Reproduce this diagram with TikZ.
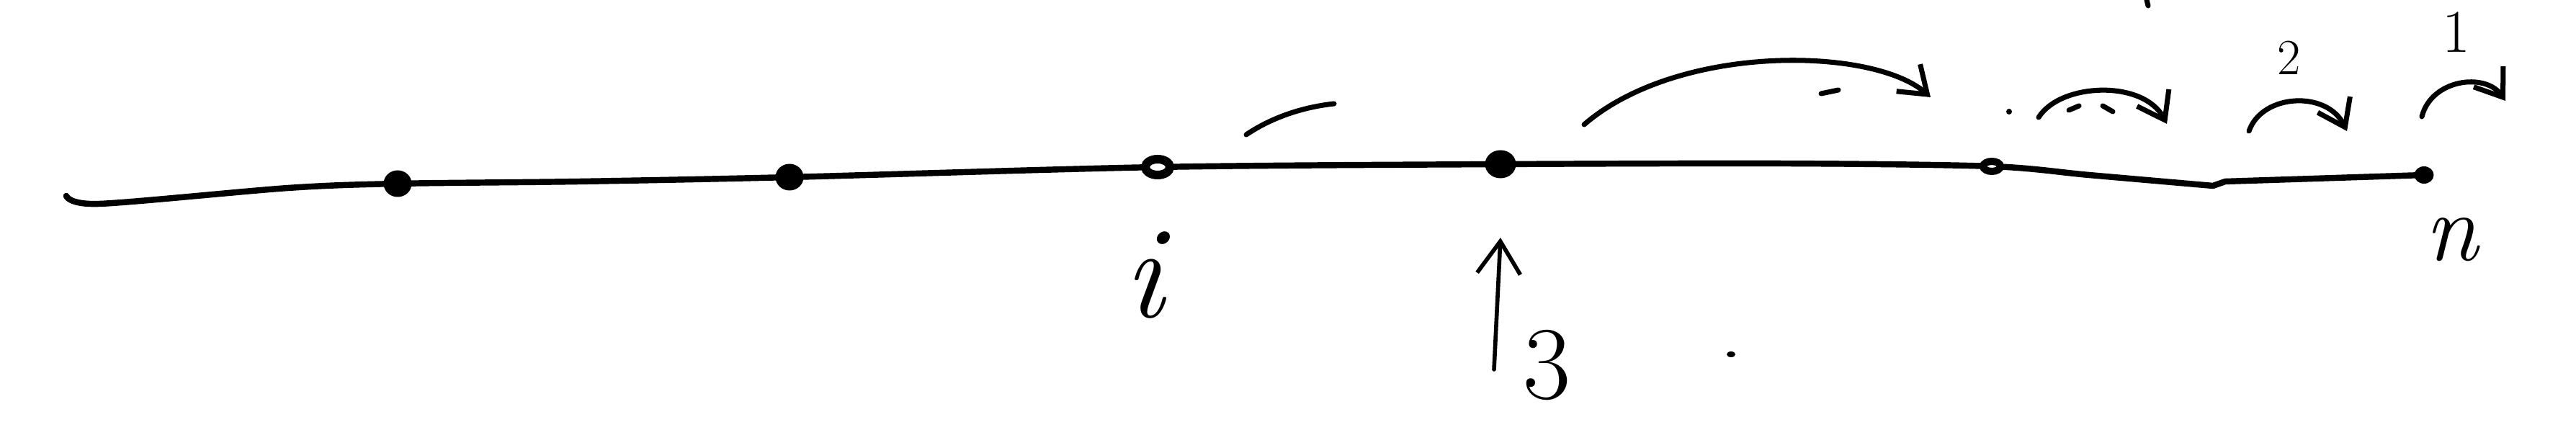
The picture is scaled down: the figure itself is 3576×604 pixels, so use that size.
\documentclass[tikz,border=0pt]{standalone}
\usetikzlibrary{arrows.meta,shapes.geometric}

\begin{document}
\begin{tikzpicture}[x=0.1mm, y=-0.1mm,
    axis/.style={line width=2.4pt, line cap=round, line join=round},
    fulldot/.style={ellipse, fill=black, inner sep=0pt, minimum width=3.9mm, minimum height=3.7mm},
    opendot/.style={ellipse, draw=black, fill=white, line width=1.2mm, inner sep=0pt, minimum width=3.4mm, minimum height=2.2mm},
    hop/.style={line width=2pt, line cap=round, -{Straight Barb[length=3.5mm, width=5mm]}},
    stroke/.style={line width=2pt, line cap=round},
    lbl/.style={inner sep=0pt, font=\fontsize{#1}{#1}\selectfont}]
    % Fix the page size
    \useasboundingbox (0,0) rectangle (3576,604);

    % Points on the line
    \coordinate (start) at (92,272);
    \coordinate (hook) at (138,283);
    \coordinate (p1) at (552,255);
    \coordinate (p2) at (1096,246);
    \coordinate (pi) at (1607,232);
    \coordinate (p3) at (2083,228);
    \coordinate (pb) at (2765,231);
    \coordinate (kink) at (3072,258);
    \coordinate (pn) at (3365,243);

    % The line itself
    \draw[axis] plot[smooth, tension=0.5] coordinates {(start) (hook) (400,261) (p1) (804,252) (p2) (pi) (p3) (2477,227) (pb) (2900,243) (kink)}
        -- (3089,252) -- (pn);

    % Dots on the line
    \node[fulldot] (d1) at (p1) {};
    \node[fulldot] (d2) at (p2) {};
    \node[opendot] (di) at (pi) {};
    \node[fulldot, minimum width=4.3mm, minimum height=3.9mm] (d3) at (p3) {};
    \node[opendot, minimum width=2.4mm, minimum height=1.4mm, line width=1mm] (db) at (pb) {};
    \node[fulldot, minimum width=2.7mm, minimum height=2.4mm] (dn) at (pn) {};

    % Labels under the line
    \node[lbl=52] (li) at (1592,382) {\textit{i}};
    \node[lbl=38] (ln) at (3405,333) {\textit{n}};
    \node[lbl=41] (l3) at (2148,507) {3};

    % Arrow pointing up at the third dot
    \coordinate (tail3) at (2074,513);
    \coordinate (head3) at (2083,330);
    \draw[line width=1.6pt, line cap=round, -{Straight Barb[length=4.5mm, width=6mm]}] (tail3) -- (head3);

    % Jumps above the line
    \coordinate (a0s) at (1730,187);
    \coordinate (a0e) at (1852,144);
    \draw[stroke] (a0s) .. controls (1770,160) and (1815,148) .. (a0e);

    \coordinate (a1s) at (2199,173);
    \coordinate (a1e) at (2680,135);
    \draw[hop] (a1s) .. controls (2330,60) and (2600,65) .. (a1e);
    \draw[stroke] (2528,130) -- (2552,125);

    \coordinate (a2s) at (2830,163);
    \coordinate (a2e) at (3008,172);
    \fill (2789,155) circle (4);
    \draw[hop] (a2s) .. controls (2860,115) and (2975,110) .. (a2e);
    \draw[stroke] (2872,153) -- (2886,147);
    \draw[stroke] (2919,147) -- (2933,155);

    \coordinate (a3s) at (3122,182);
    \coordinate (a3e) at (3258,182);
    \draw[hop] (a3s) .. controls (3140,130) and (3230,125) .. (a3e);
    \node[lbl=20] (l2) at (3178,80) {2};

    \coordinate (a4s) at (3362,162);
    \coordinate (a4e) at (3478,140);
    \draw[hop] (a4s) .. controls (3375,110) and (3450,100) .. (a4e);
    \node[lbl=24] (l1) at (3410,45) {1};

    % Stray marks
    \draw[stroke] (2980,0) -- (2982,8);
    \fill (2403,492) ellipse (6 and 4);
\end{tikzpicture}
\end{document}
